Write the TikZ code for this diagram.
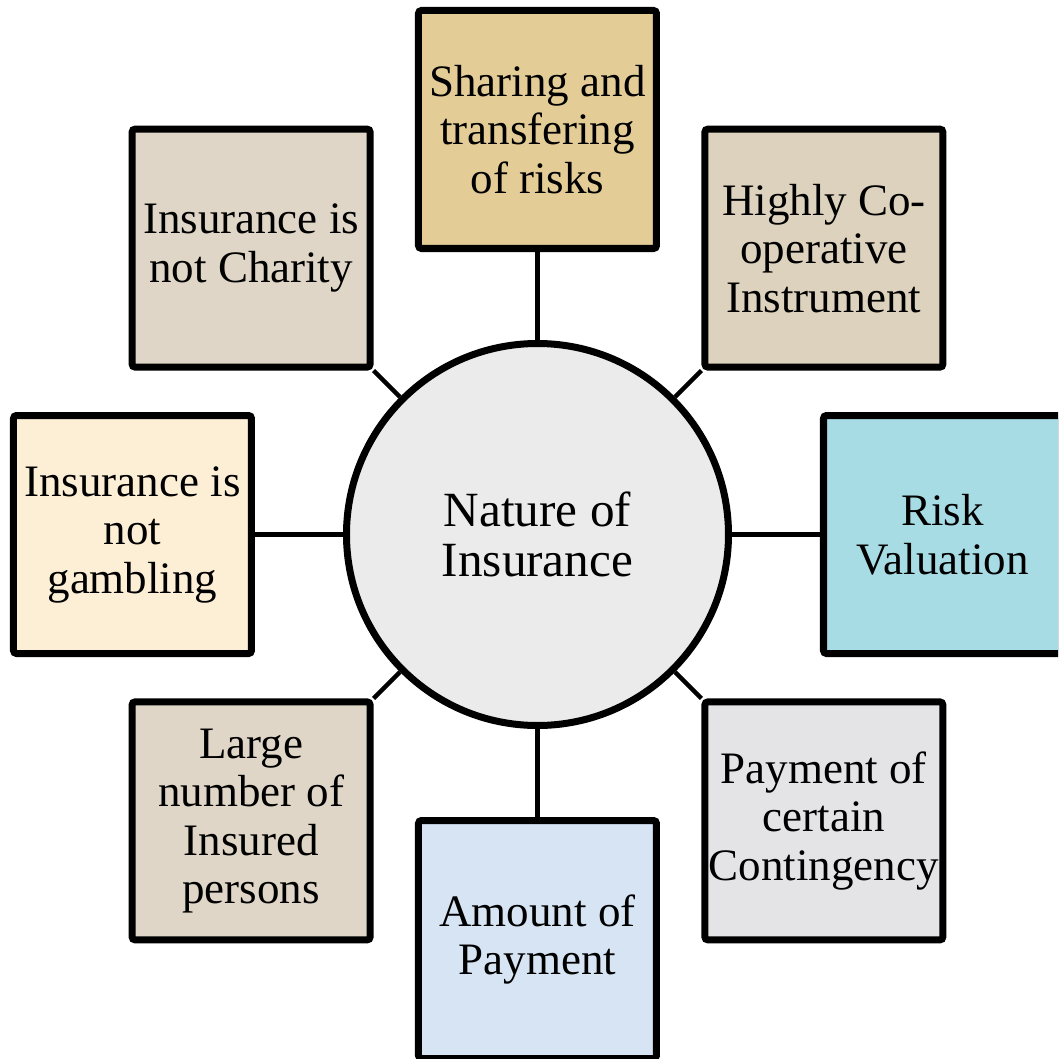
\documentclass[tikz,border=0pt]{standalone}
\usepackage{fontspec}
\setmainfont{Liberation Serif}
\usepackage{xcolor}
\usetikzlibrary{positioning,shadows}

\definecolor{papyrus}{RGB}{228,204,150}
\definecolor{burlap}{RGB}{220,210,190}
\definecolor{stone}{RGB}{223,214,199}
\definecolor{cream}{RGB}{252,239,214}
\definecolor{water}{RGB}{168,220,228}
\definecolor{marble}{RGB}{228,228,230}
\definecolor{frost}{RGB}{214,228,244}
\definecolor{granite}{RGB}{235,235,235}

\begin{document}
\begin{tikzpicture}[
  every node/.style={font=\fontsize{12.8}{13.8}\selectfont, align=center, inner sep=0pt},
  box/.style={draw=black, line width=0.07cm, rounded corners=0.03cm,
    minimum size=2.38cm,
    drop shadow={shadow xshift=0.02cm, shadow yshift=-0.03cm, opacity=0.35}},
  hub/.style={draw=black, line width=0.07cm, circle, minimum size=3.82cm, fill=granite,
    font=\fontsize{14}{14.4}\selectfont},
  link/.style={draw=black, line width=0.045cm}
]
\useasboundingbox (-5.375,-5.245) rectangle (5.205,5.345);
\clip (-5.375,-5.245) rectangle (5.205,5.345);

% centre
\node[hub] (nat) at (0,0) {Nature of\\Insurance};

% the eight features, 45 degrees apart
\node[box, fill=papyrus] (share) at (90:4.05) {Sharing and\\transfering\\of risks};
\node[box, fill=burlap] (coop) at (45:4.05) {Highly Co-\\operative\\Instrument};
\node[box, fill=water] (risk) at (0:4.05) {Risk\\Valuation};
\node[box, fill=marble] (cont) at (-45:4.05) {Payment of\\certain\\Contingency};
\node[box, fill=frost] (amt) at (-90:4.05) {Amount of\\Payment};
\node[box, fill=stone] (large) at (-135:4.05) {Large\\number of\\Insured\\persons};
\node[box, fill=cream] (gamb) at (180:4.05) {Insurance is\\not\\gambling};
\node[box, fill=stone] (char) at (135:4.05) {Insurance is\\not Charity};

% spokes
\draw[link] (nat) -- (share);
\draw[link] (nat) -- (coop);
\draw[link] (nat) -- (risk);
\draw[link] (nat) -- (cont);
\draw[link] (nat) -- (amt);
\draw[link] (nat) -- (large);
\draw[link] (nat) -- (gamb);
\draw[link] (nat) -- (char);
\end{tikzpicture}
\end{document}
